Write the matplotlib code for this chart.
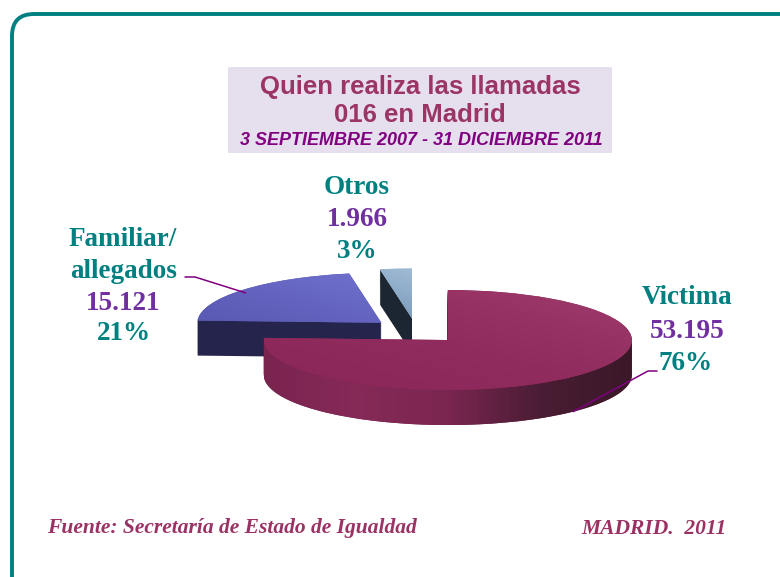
import numpy as np
import matplotlib
matplotlib.use("Agg")
import matplotlib.pyplot as plt
from matplotlib.patches import Rectangle, FancyBboxPatch, Polygon
from matplotlib.colors import LinearSegmentedColormap

# data
categories = ["Victima", "Familiar/\nallegados", "Otros"]
calls = [53195, 15121, 1966]
call_labels = ["53.195", "15.121", "1.966"]
pct_labels = ["76%", "21%", "3%"]
explode = [0.25, 0.25, 0.25]

top_colors = ["#8E2A5C", "#5C5CB4", "#9DB8D2"]
side_colors = ["#6E1F47", "#24244C", "#1B2632"]

W, H = 780, 577
TEAL = "#008080"
PURPLE = "#7030A0"


def fx(x):
    return x / W


def fy(y):
    return 1 - y / H


fig = plt.figure(figsize=(7.8, 5.77), dpi=100)

# rounded teal frame
fig.patches.append(FancyBboxPatch((12, H - 620), 800, 606,
                                  boxstyle="round,pad=0,rounding_size=22",
                                  transform=None, fill=False,
                                  edgecolor=TEAL, linewidth=2.8))

# title box
fig.patches.append(Rectangle((fx(228), fy(153)), fx(612) - fx(228), fy(67) - fy(153),
                             transform=fig.transFigure, facecolor="#E6E0EE",
                             edgecolor="none"))
fig.text(fx(420), fy(87), "Quien realiza las llamadas", ha="center", va="center",
         fontsize=18.5, fontweight="bold", color="#9B3566", family="Liberation Sans")
fig.text(fx(420), fy(115), "016 en Madrid", ha="center", va="center",
         fontsize=18.5, fontweight="bold", color="#9B3566", family="Liberation Sans")
fig.text(fx(421), fy(141), "3 SEPTIEMBRE 2007 - 31 DICIEMBRE 2011", ha="center",
         va="center", fontsize=13, fontweight="bold", style="italic",
         color="#800080", family="Liberation Sans")

# pseudo 3D pie: unit circle -> 184 x 50 px ellipse
ax = fig.add_axes([fx(140), fy(331 + 100), 552 / W, 200 / H])
depth = 0.7
nlayers = 36
for k in np.linspace(depth, 0.02, nlayers):
    wedges, _ = ax.pie(calls, explode=explode, startangle=90, counterclock=False,
                       colors=side_colors, center=(0, -k),
                       wedgeprops=dict(linewidth=0))
    for w in wedges:
        w.set_zorder(1)

tops, _ = ax.pie(calls, explode=explode, startangle=90, counterclock=False,
                 colors=top_colors, wedgeprops=dict(linewidth=0))
for w in tops:
    w.set_zorder(3)

ax.set_aspect("auto")
ax.set_xlim(-1.5, 1.5)
ax.set_ylim(-2, 2)
ax.axis("off")

# wedge mid angles for offsets
fracs = np.array(calls) / sum(calls)
ends = 90 - np.cumsum(fracs) * 360
starts = ends + fracs * 360
mids = np.radians((starts + ends) / 2)
cx = np.array(explode) * np.cos(mids)
cy = np.array(explode) * np.sin(mids)

# shading on the front wall of Victima
th = np.linspace(np.pi, 2 * np.pi, 200)
rim = np.c_[cx[0] + np.cos(th), cy[0] + np.sin(th)]
band = Polygon(np.vstack([rim, rim[::-1] - [0, depth]]), closed=True,
               transform=ax.transData, facecolor="none", edgecolor="none")
ax.add_patch(band)
grad = np.linspace(0, 1, 256).reshape(1, -1)
side_cmap = LinearSegmentedColormap.from_list(
    "vs", ["#7A2450", "#862A58", "#7A2650", "#4A1D34", "#3A1828"])
im = ax.imshow(grad, extent=(cx[0] - 1, cx[0] + 1, -2, 2), cmap=side_cmap,
               aspect="auto", zorder=2, interpolation="bilinear")
im.set_clip_path(band)

# top surfaces gradients
top_cmaps = [
    LinearSegmentedColormap.from_list("vt", ["#8A2658", "#902C5E", "#9E3C6C"]),
    LinearSegmentedColormap.from_list("ft", ["#4E4EA6", "#6464C0", "#7C7CDC"]),
    LinearSegmentedColormap.from_list("ot", ["#2A3C50", "#7E9EBE", "#C0D6EA"]),
]
for i, w in enumerate(tops):
    g = np.add.outer(np.linspace(0, 0.5, 64), np.linspace(0, 0.5, 64))
    im = ax.imshow(g, extent=(cx[i] - 1, cx[i] + 1, cy[i] - 1, cy[i] + 1),
                   cmap=top_cmaps[i], origin="lower", aspect="auto",
                   zorder=3.5, interpolation="bilinear")
    im.set_clip_path(w)
ax.set_xlim(-1.5, 1.5)
ax.set_ylim(-2, 2)

# labels
label_font = dict(family="Liberation Serif", fontweight="bold", fontsize=19.5,
                  ha="center", va="center")
fig.text(fx(687), fy(298), "Victima", color=TEAL, **label_font)
fig.text(fx(687), fy(331), call_labels[0], color=PURPLE, **label_font)
fig.text(fx(686), fy(363), pct_labels[0], color=TEAL, **label_font)

fig.text(fx(123), fy(240), "Familiar/", color=TEAL, **label_font)
fig.text(fx(124), fy(271), "allegados", color=TEAL, **label_font)
fig.text(fx(123), fy(303), call_labels[1], color=PURPLE, **label_font)
fig.text(fx(124), fy(334), pct_labels[1], color=TEAL, **label_font)

fig.text(fx(357), fy(188), "Otros", color=TEAL, **label_font)
fig.text(fx(357), fy(220), call_labels[2], color=PURPLE, **label_font)
fig.text(fx(357), fy(252), pct_labels[2], color=TEAL, **label_font)


# leader lines: short horizontal tick at the label, then a slanted run to the wedge
def leader(xy, start, elbow_dx):
    bx, by = ax.transData.transform(xy)
    ex, ey = start[0] + elbow_dx, start[1]
    angle_b = np.degrees(np.arctan2(by - ey, bx - ex))
    ax.annotate("", xy=xy, xytext=start, textcoords="figure pixels",
                arrowprops=dict(arrowstyle="-", color="#800080", lw=1.1,
                                shrinkA=0, shrinkB=0,
                                connectionstyle=f"angle,angleA=0,angleB={angle_b:.2f},rad=0"),
                zorder=5)


a = np.radians(141)
leader((cx[1] + 0.95 * np.cos(a), cy[1] + 0.95 * np.sin(a)), (185, H - 277), 10)
a = np.radians(-47)
leader((cx[0] + np.cos(a), cy[0] + np.sin(a) - depth), (657, H - 371), -9)

# footer
foot = dict(family="Liberation Serif", fontweight="bold", style="italic",
            fontsize=15.5, color="#9B3264", va="center")
fig.text(fx(47), fy(528), "Fuente: Secretaría de Estado de Igualdad", ha="left", **foot)
fig.text(fx(727), fy(529), "MADRID.  2011", ha="right", **foot)

fig.savefig("out.png", dpi=100)
